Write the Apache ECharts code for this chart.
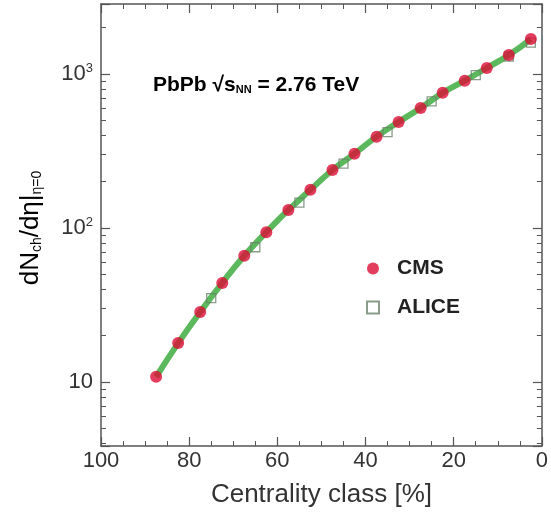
<!DOCTYPE html>
<html>
<head>
<meta charset="utf-8">
<title>dNch/deta vs centrality</title>
<script src="https://cdn.jsdelivr.net/npm/echarts@6/dist/echarts.min.js"></script>
<style>
  html, body { margin: 0; padding: 0; background: #fff; }
  #chart { width: 551px; height: 515px; }
</style>
</head>
<body>
<div id="chart"></div>
<script>
// CMS points, 5% centrality bins (bin centres)
const cmsCentrality = [2.5, 7.5, 12.5, 17.5, 22.5, 27.5, 32.5, 37.5, 42.5, 47.5, 52.5, 57.5, 62.5, 67.5, 72.5, 77.5, 82.5, 87.5]
const cmsValues = [1688, 1330, 1095, 905, 755, 602, 488, 392, 304, 238, 177, 131, 94, 66, 44, 28.5, 17.9, 10.8]
// ALICE points
const aliceCentrality = [2.5, 7.5, 15, 25, 35, 45, 55, 65, 75]
const aliceValues = [1600, 1300, 985, 665, 420, 262, 146, 75, 35]
// x tick labels
const xTicks = [100, 80, 60, 40, 20, 0]

const pairs = (xs, ys) => xs.map((x, i) => [x, ys[i]])

const frame = '#555'
const font = 'Liberation Sans, Arial, Helvetica, sans-serif'

// fresh objects per axis so nothing is shared between them
const tick = () => ({ show: true, inside: true, length: 9, lineStyle: { color: frame, width: 1.2 } })
const minor = n => ({ show: true, splitNumber: n, length: 5, lineStyle: { color: frame, width: 1 } })
const line = () => ({ show: true, onZero: false, lineStyle: { color: frame, width: 1.5 } })

const chart = echarts.init(document.getElementById('chart'))
chart.setOption({
  animation: false,
  grid: { left: 101, right: 5, top: 4, bottom: 69 },
  legend: {
    data: ['CMS', 'ALICE'],
    orient: 'vertical',
    left: 361,
    top: 253,
    itemWidth: 12,
    itemHeight: 12,
    itemGap: 18,
    textStyle: { fontFamily: font, fontSize: 21, fontWeight: 'bold', color: '#222', padding: [0, 0, 0, 13] },
  },
  xAxis: [
    {
      type: 'value',
      inverse: true,
      min: 0,
      max: 100,
      interval: 20,
      name: 'Centrality class [%]',
      nameLocation: 'middle',
      nameGap: 36,
      nameTextStyle: { fontFamily: font, fontSize: 26, color: '#333' },
      axisLine: line(),
      axisTick: tick(),
      minorTick: minor(4),
      axisLabel: {
        fontFamily: font, fontSize: 22, color: '#333', margin: 4,
        formatter: v => (xTicks.includes(v) ? String(v) : ''),
      },
      splitLine: { show: false },
    },
    {
      type: 'value',
      position: 'top',
      inverse: true,
      min: 0,
      max: 100,
      interval: 20,
      axisLine: line(),
      axisTick: tick(),
      minorTick: minor(4),
      axisLabel: { show: false },
      splitLine: { show: false },
    },
  ],
  yAxis: [
    {
      type: 'log',
      logBase: 10,
      position: 'left',
      min: 3.84,
      max: 2850,
      axisLine: line(),
      axisTick: tick(),
      minorTick: minor(9),
      axisLabel: {
        fontFamily: font, fontSize: 22, color: '#333', margin: 8,
        showMinLabel: false, showMaxLabel: false,
        formatter: v => {
          const e = Math.round(Math.log10(v))
          if (Math.abs(Math.log10(v) - e) > 1e-6) return ''
          return e === 1 ? '10' : '10{sup|' + e + '}'
        },
        rich: { sup: { fontFamily: font, fontSize: 13, color: '#333', verticalAlign: 'top', padding: [0, 0, 12, 0] } },
      },
      splitLine: { show: false },
    },
    {
      type: 'log',
      logBase: 10,
      position: 'right',
      min: 3.84,
      max: 2850,
      axisLine: line(),
      axisTick: tick(),
      minorTick: minor(9),
      axisLabel: { show: false },
      splitLine: { show: false },
    },
  ],
  graphic: [
    {
      type: 'text',
      x: 153,
      y: 85,
      style: {
        text: '{b|PbPb \u221A}{b|s}{sub|NN}{b| = 2.76 TeV}',
        verticalAlign: 'middle',
        rich: {
          b: { fontFamily: font, fontSize: 21, fontWeight: 'bold', color: '#222' },
          sub: { fontFamily: font, fontSize: 11, fontWeight: 'bold', color: '#222', verticalAlign: 'bottom' },
        },
      },
    },
    {
      type: 'text',
      x: 31,
      y: 228,
      rotation: Math.PI / 2,
      style: {
        text: '{m|dN}{s|ch}{m|/d\u03B7|}{s|\u03B7=0}',
        align: 'center',
        verticalAlign: 'middle',
        rich: {
          m: { fontFamily: font, fontSize: 26, color: '#333' },
          s: { fontFamily: font, fontSize: 14, color: '#333', verticalAlign: 'bottom' },
        },
      },
    },
  ],
  series: [
    {
      name: 'fit',
      type: 'line',
      smooth: true,
      showSymbol: false,
      data: pairs(cmsCentrality, cmsValues),
      lineStyle: { color: '#5cb85c', width: 6 },
      z: 1,
    },
    {
      name: 'ALICE',
      type: 'scatter',
      symbol: 'rect',
      symbolSize: 9,
      data: pairs(aliceCentrality, aliceValues),
      itemStyle: { color: 'rgba(0,0,0,0)', borderColor: '#6b836b', borderWidth: 1.3 },
      z: 2,
    },
    {
      name: 'CMS',
      type: 'scatter',
      symbol: 'circle',
      symbolSize: 12,
      data: pairs(cmsCentrality, cmsValues),
      itemStyle: { color: '#dc0c36' },
      z: 3,
    },
  ],
})
</script>
</body>
</html>
